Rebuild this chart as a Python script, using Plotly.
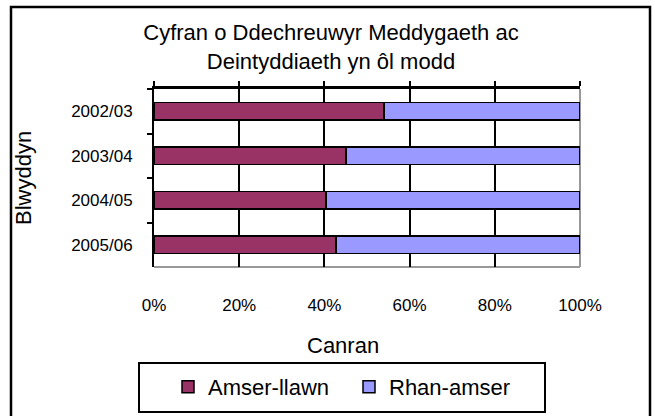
import plotly.graph_objects as go

years = ["2002/03", "2003/04", "2004/05", "2005/06"]
full_time = [0.54, 0.451, 0.404, 0.427]
part_time = [0.46, 0.549, 0.596, 0.573]
x_ticks = [0, 0.2, 0.4, 0.6, 0.8, 1.0]
x_tick_labels = ["0%", "20%", "40%", "60%", "80%", "100%"]
grid_vals = [0.2, 0.4, 0.6, 0.8]

W, H = 655, 416
L, R, T, B = 154, 75, 89, 149
pw, ph = W - L - R, H - T - B

def px(x):
    return (x - L) / pw

def py(y):
    return (H - B - y) / ph

FONT = "Liberation Sans, Arial, sans-serif"

fig = go.Figure()
fig.add_trace(go.Bar(y=years, x=full_time, orientation="h", name="Amser-llawn",
                     marker=dict(color="#993366", line=dict(color="black", width=1.5))))
fig.add_trace(go.Bar(y=years, x=part_time, orientation="h", name="Rhan-amser",
                     marker=dict(color="#9999FF", line=dict(color="black", width=1.5))))

fig.update_layout(
    width=W, height=H,
    margin=dict(l=L, r=R, t=T, b=B, autoexpand=False),
    paper_bgcolor="white", plot_bgcolor="white",
    barmode="stack", bargap=0.6,
    font=dict(family=FONT, color="black", size=17),
    title=dict(text="Cyfran o Ddechreuwyr Meddygaeth ac<br>Deintyddiaeth yn ôl modd",
               font=dict(size=22, family=FONT), x=px(331), xanchor="center", xref="paper",
               y=1 - 40 / H, yanchor="middle", yref="container"),
    xaxis=dict(range=[0, 1], tickvals=x_ticks, ticktext=x_tick_labels, showgrid=False,
               ticks="", showline=False, zeroline=False, ticklabelstandoff=26,
               tickfont=dict(size=17), automargin=False),
    xaxis2=dict(range=[0, 1], overlaying="x", side="top", tickvals=x_ticks,
                showticklabels=False, ticks="outside", ticklen=5, tickwidth=2,
                tickcolor="black", showline=True, linecolor="black", linewidth=2.5,
                showgrid=False, zeroline=False, automargin=False),
    xaxis3=dict(range=[0, 1], overlaying="x", side="bottom", tickvals=grid_vals,
                showticklabels=False, ticks="", showline=False, showgrid=True,
                gridcolor="black", gridwidth=1.5, zeroline=False, automargin=False),
    yaxis=dict(autorange="reversed", type="category", tickson="boundaries",
               ticks="outside", ticklen=5, tickwidth=2, tickcolor="black",
               showline=True, linecolor="black", linewidth=2, showgrid=False,
               ticklabelstandoff=16, tickfont=dict(size=17), automargin=False),
    showlegend=True,
    legend=dict(orientation="h", x=px(168), xanchor="left", y=py(387), yanchor="middle",
                font=dict(size=22, family=FONT), bgcolor="rgba(0,0,0,0)",
                itemwidth=30, entrywidth=136, entrywidthmode="pixels",
                traceorder="normal"),
    shapes=[
        dict(type="line", xref="paper", yref="paper", x0=1, x1=1, y0=0, y1=1,
             line=dict(color="#999999", width=2), layer="below"),
        dict(type="line", xref="paper", yref="paper", x0=0, x1=1, y0=0, y1=0,
             line=dict(color="#999999", width=2), layer="below"),
        dict(type="rect", xref="paper", yref="paper", x0=px(139), x1=px(545),
             y0=py(412), y1=py(363), line=dict(color="black", width=2)),
        dict(type="rect", xref="paper", yref="paper", x0=px(11), x1=px(650),
             y0=py(425), y1=py(7), line=dict(color="black", width=2.5)),
    ],
    annotations=[
        dict(text="Canran", xref="paper", yref="paper", x=px(343), y=py(345),
             xanchor="center", yanchor="middle",
             showarrow=False, font=dict(size=22, family=FONT)),
        dict(text="Blwyddyn", xref="paper", yref="paper", x=px(23), y=py(178),
             xanchor="center", yanchor="middle",
             showarrow=False, textangle=-90, font=dict(size=22, family=FONT)),
    ],
)
fig.add_trace(go.Scatter(x=[0, 1], y=[years[0], years[0]], xaxis="x2", mode="none",
                         showlegend=False, hoverinfo="skip"))
fig.add_trace(go.Scatter(x=[0, 1], y=[years[0], years[0]], xaxis="x3", mode="none",
                         showlegend=False, hoverinfo="skip"))

fig.write_html("out.html", config={"displayModeBar": False},
               post_script="document.body.style.margin='0';document.body.style.overflow='hidden';")
